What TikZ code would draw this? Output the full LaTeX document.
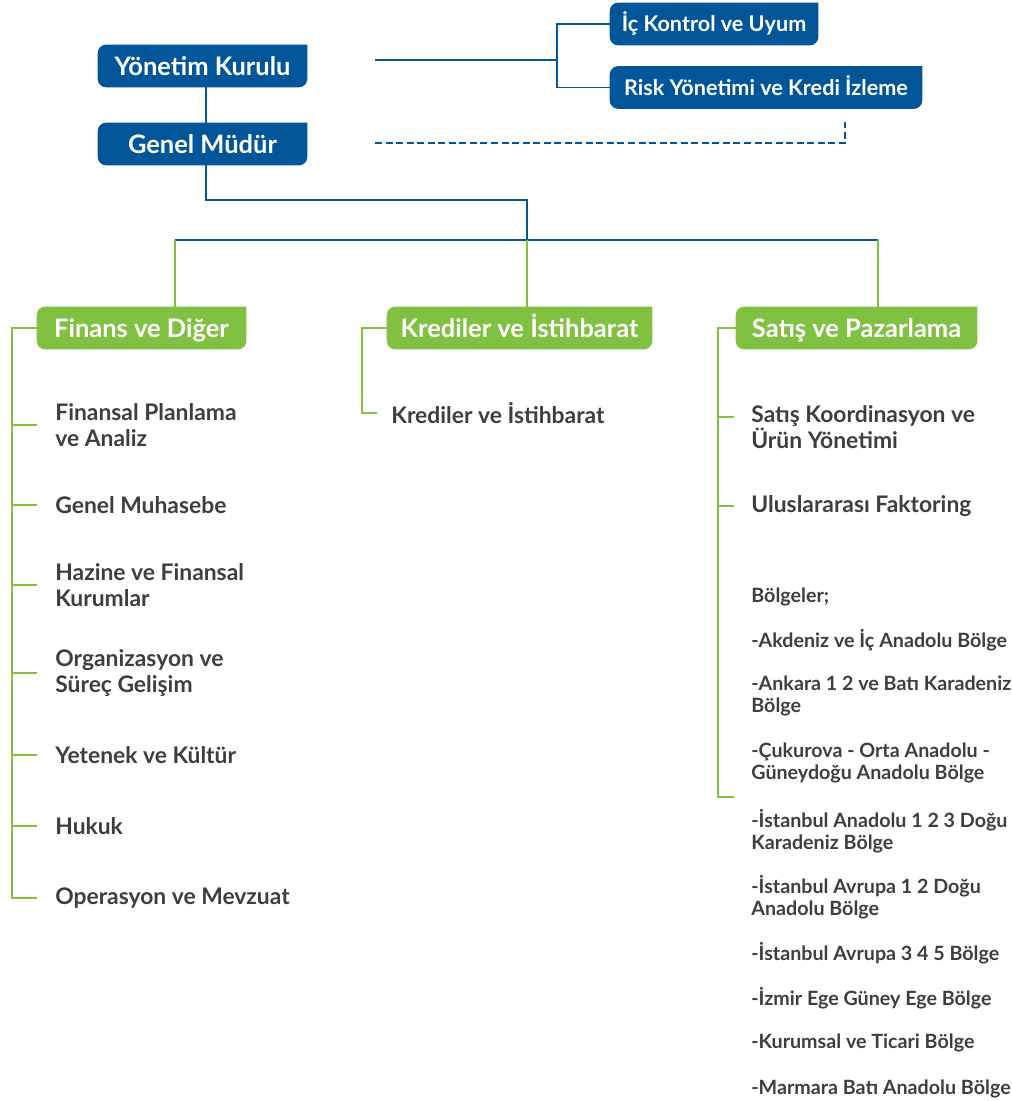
\documentclass[tikz,border=0pt]{standalone}
\usepackage{fontspec}
\setmainfont{Lato}
\usetikzlibrary{backgrounds}

\definecolor{kfblue}{RGB}{0,86,152}
\definecolor{kfgreen}{RGB}{128,193,66}
\definecolor{kftext}{RGB}{62,62,64}

\tikzset{
  tab/.style={inner sep=0pt, minimum height=0.84cm, text=white,
              text height=10.4pt, text depth=0pt,
              font=\fontsize{14.5}{17}\selectfont\bfseries},
  smalltab/.style={tab, text height=8.8pt,
                   font=\fontsize{12.3}{15}\selectfont\bfseries},
  unit/.style={anchor=west, inner sep=0pt, align=left, text=kftext,
               font=\fontsize{13}{14.8}\selectfont\bfseries},
  region/.style={unit, font=\fontsize{11.2}{12.8}\selectfont\bfseries},
  blueline/.style={draw=kfblue, line width=1.1pt},
  hubline/.style={draw=kfblue, line width=1.6pt},
  greenline/.style={draw=kfgreen, line width=1.1pt}
}

\begin{document}
\begin{tikzpicture}[x=0.02cm, y=-0.02cm]
\useasboundingbox (0,0) rectangle (1011,1101);

% Top management
\node[tab, minimum width=4.18cm]      (yk)   at (202.5,66)  {Yönetim Kurulu};
\node[tab, minimum width=4.18cm]      (gm)   at (202.5,144) {Genel Müdür};
\node[smalltab, minimum width=4.16cm] (ick)  at (714,24)    {İç Kontrol ve Uyum};
\node[smalltab, minimum width=6.24cm] (risk) at (766,87.5)  {Risk Yönetimi ve Kredi İzleme};

% Groups
\node[tab, minimum width=4.18cm] (finans) at (141.5,328) {Finans ve Diğer};
\node[tab, minimum width=5.30cm] (kredi)  at (519.5,328) {Krediler ve İstihbarat};
\node[tab, minimum width=4.82cm] (satis)  at (856.5,328) {Satış ve Pazarlama};

% Finans units
\node[unit] (fpa) at (55,425) {Finansal Planlama\\ve Analiz};
\node[unit] (gmh) at (55,505) {Genel Muhasebe};
\node[unit] (hfk) at (55,585) {Hazine ve Finansal\\Kurumlar};
\node[unit] (osg) at (55,673) {Organizasyon ve\\Süreç Gelişim};
\node[unit] (yek) at (55,755) {Yetenek ve Kültür};
\node[unit] (huk) at (55,826) {Hukuk};
\node[unit] (opm) at (55,898) {Operasyon ve Mevzuat};

% Krediler unit
\node[unit] (kis) at (391,413) {Krediler ve İstihbarat};

% Satis units
\node[unit] (skn) at (751,427) {Satış Koordinasyon ve\\Ürün Yönetimi};
\node[unit] (ufk) at (751,506) {Uluslararası Faktoring};
\node[region] (blg) at (751,597)  {Bölgeler;};
\node[region] (r1)  at (751,640)  {-Akdeniz ve İç Anadolu Bölge};
\node[region] (r2)  at (751,696)  {-Ankara 1 2 ve Batı Karadeniz\\Bölge};
\node[region] (r3)  at (751,763)  {-Çukurova - Orta Anadolu -\\Güneydoğu Anadolu Bölge};
\node[region] (r4)  at (751,831)  {-İstanbul Anadolu 1 2 3 Doğu\\Karadeniz Bölge};
\node[region] (r5)  at (751,897)  {-İstanbul Avrupa 1 2 Doğu\\Anadolu Bölge};
\node[region] (r6)  at (751,953)  {-İstanbul Avrupa 3 4 5 Bölge};
\node[region] (r7)  at (751,998)  {-İzmir Ege Güney Ege Bölge};
\node[region] (r8)  at (751,1043) {-Kurumsal ve Ticari Bölge};
\node[region] (r9)  at (751,1089) {-Marmara Batı Anadolu Bölge};

% Box fills
\begin{scope}[on background layer]
\foreach \n/\c in {yk/kfblue, gm/kfblue, ick/kfblue, risk/kfblue,
                   finans/kfgreen, kredi/kfgreen, satis/kfgreen}
  \fill[\c, rounded corners=0.17cm] (\n.north east) -- (\n.north west)
       -- (\n.south west) -- (\n.south east) -- (\n.north east);
\end{scope}

% Helper points
\coordinate (ykr)    at (375,60);
\coordinate (splt)   at (557,60);
\coordinate (gmr)    at (375,143);
\coordinate (dend)   at (845,122);
\coordinate (hubl)   at (175,240);
\coordinate (hubm)   at (527,240);
\coordinate (hubr)   at (878,240);
\coordinate (ltrunk) at (12,0);
\coordinate (mtrunk) at (362,0);
\coordinate (rtrunk) at (718,0);
\coordinate (rend)   at (718,797);

% Management lines
\draw[blueline] ([xshift=0.07cm]yk.south) -- ([xshift=0.07cm]gm.north);
\draw[blueline] (ykr) -- (splt);
\draw[blueline] (ick.west) -| (splt) |- (risk.west);
\draw[blueline, dash pattern={on 4pt off 2pt}] (gmr) -| (dend);
\draw[blueline] ([xshift=0.07cm]gm.south) -- ++(0,35) -| (hubm);
\draw[hubline] (hubl) -- (hubr);

% Hub -> groups
\draw[greenline] (hubl) -- (hubl |- finans.north);
\draw[greenline] (hubm) -- (hubm |- kredi.north);
\draw[greenline] (hubr) -- (hubr |- satis.north);

% Finans tree
\draw[greenline] (finans.west) -| (ltrunk |- opm.west) -- ++(25,0);
\foreach \n in {fpa,gmh,hfk,osg,yek,huk}
  \draw[greenline] (ltrunk |- \n.west) -- ++(25,0);

% Krediler tree
\draw[greenline] (kredi.west) -| (mtrunk |- kis.west) -- ++(15,0);

% Satis tree
\draw[greenline] (satis.west) -| (rend) -- ++(16,0);
\draw[greenline] (rtrunk |- skn.west) ++(0,-10) -- ++(16,0);
\draw[greenline] (rtrunk |- ufk.west) -- ++(16,0);
\end{tikzpicture}
\end{document}
